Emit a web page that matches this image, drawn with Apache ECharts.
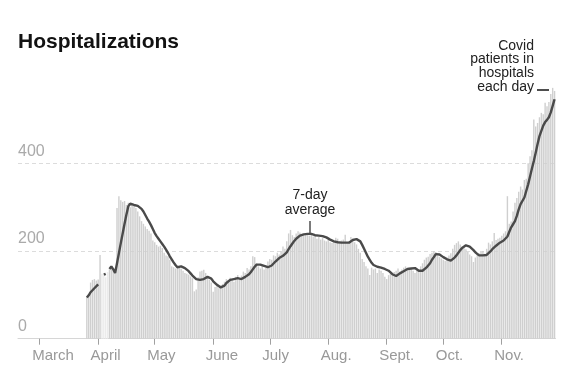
<!DOCTYPE html>
<html><head><meta charset="utf-8">
<script src="https://cdn.jsdelivr.net/npm/echarts@6/dist/echarts.min.js"></script>
<style>html,body{margin:0;padding:0;background:#fff}#c{width:574px;height:385px}</style>
</head><body><div id="c"></div>
<script>
const axisStart = '2020-02-19';
const dataStart = '2020-03-26';
const axisEnd = '2020-11-29';

const dailyPatients = [
  95, 100, 128, 134, 136, 133,
  135, 191, 148, 146, 140, 152, 158, 162, 155, 160, 298, 325, 316, 312, 314, 305, 310, 300, 306, 302, 298, 290, 279, 268, 262, 256, 250, 246, 240, 224,
  220, 214, 210, 212, 207, 196, 190, 188, 180, 165, 163, 160, 161, 164, 160, 155, 150, 148, 146, 142, 138, 108, 112, 140, 153, 155, 157, 150, 140, 134, 128,
  107, 118, 120, 115, 122, 125, 130, 136, 132, 139, 134, 130, 141, 145, 138, 144, 153, 150, 161, 158, 165, 188, 186, 172, 165, 160, 168, 158, 162, 176,
  182, 180, 190, 188, 196, 192, 200, 210, 205, 222, 240, 248, 236, 232, 240, 245, 242, 238, 236, 240, 238, 235, 237, 233, 236, 228, 232, 226, 230, 224, 222,
  225, 220, 218, 222, 230, 228, 220, 224, 226, 237, 218, 222, 232, 228, 220, 215, 205, 196, 182, 175, 165, 160, 145, 162, 158, 160, 150, 158, 155, 150, 141,
  136, 145, 148, 150, 152, 155, 160, 153, 158, 162, 165, 158, 162, 160, 155, 150, 156, 157, 165, 172, 180, 185, 187, 193, 196, 200, 198, 190, 186, 183,
  180, 178, 185, 190, 195, 205, 214, 218, 222, 215, 210, 206, 204, 198, 192, 188, 175, 185, 193, 195, 198, 200, 194, 205, 219, 215, 222, 241, 225, 228, 230,
  235, 240, 245, 325, 262, 267, 290, 310, 321, 335, 347, 340, 362, 365, 400, 416, 430, 500, 484, 492, 505, 515, 512, 538, 530, 540, 558, 572, 565
];

const sevenDayAvg = [
  94, 99, 106, 110, 115, 119,
  124, null, null, 146, 148, null, 159, 165, 158, 150, 172, 195, 218, 240, 262, 283, 302, 308, 306, 305, 304, 303, 300, 296, 290, 282, 274, 267, 259, 250,
  241, 234, 228, 222, 216, 210, 203, 196, 188, 181, 174, 168, 163, 163, 165, 164, 161, 158, 154, 149, 144, 140, 136, 134, 134, 135, 136, 138, 141, 141, 137,
  131, 127, 123, 119, 117, 117, 121, 127, 131, 134, 135, 136, 137, 138, 137, 136, 138, 141, 144, 147, 152, 158, 164, 169, 170, 169, 168, 166, 164, 163,
  164, 167, 171, 176, 180, 184, 187, 189, 191, 197, 204, 211, 217, 223, 228, 232, 235, 237, 238, 239, 239, 239, 239, 238, 236, 235, 235, 234, 234, 233, 231,
  229, 226, 223, 222, 221, 220, 219, 219, 219, 219, 219, 219, 220, 225, 228, 227, 225, 222, 214, 205, 196, 187, 180, 173, 168, 165, 164, 163, 162, 161, 159,
  158, 155, 151, 147, 144, 143, 146, 149, 151, 154, 157, 159, 159, 160, 161, 161, 157, 155, 153, 155, 159, 162, 165, 172, 180, 186, 193, 195, 192, 190,
  186, 183, 181, 179, 178, 180, 185, 190, 196, 202, 207, 211, 213, 212, 210, 207, 202, 197, 193, 190, 190, 190, 191, 191, 194, 199, 204, 208, 212, 215, 219,
  222, 224, 226, 233, 244, 254, 261, 268, 280, 295, 307, 311, 322, 337, 352, 370, 388, 405, 424, 444, 462, 474, 486, 494, 499, 505, 516, 531, 546
];

const lightDays = ['Apr 3', 'Apr 4', 'Apr 5', 'Apr 6'];
const monthStarts = ['Mar 1', 'Apr 1', 'May 1', 'Jun 1', 'Jul 1', 'Aug 1', 'Sep 1', 'Oct 1', 'Nov 1'];
const monthLabels = ['March', 'April', 'May', 'June', 'July', 'Aug.', 'Sept.', 'Oct.', 'Nov.'];
const yTicks = [0, 200, 400];
const yMax = 600;

const MN = ['Jan','Feb','Mar','Apr','May','Jun','Jul','Aug','Sep','Oct','Nov','Dec'];
function fmtDay(d) { return MN[d.getUTCMonth()] + ' ' + d.getUTCDate(); }
function buildDays(a, b) {
  const out = [];
  let d = new Date(a + 'T00:00:00Z');
  const e = new Date(b + 'T00:00:00Z');
  while (d <= e) { out.push(fmtDay(d)); d = new Date(d.getTime() + 86400000); }
  return out;
}
const categories = buildDays(axisStart, axisEnd);
const offset = categories.indexOf(fmtDay(new Date(dataStart + 'T00:00:00Z')));

const barData = categories.map((c, i) => {
  const k = i - offset;
  if (k < 0 || k >= dailyPatients.length) return null;
  const v = dailyPatients[k];
  return lightDays.includes(c) ? { value: v, itemStyle: { color: '#ebebeb' } } : v;
});
const lineData = categories.map((c, i) => {
  const k = i - offset;
  if (k < 0 || k >= sevenDayAvg.length) return null;
  return sevenDayAvg[k];
});

const tickSet = new Set(monthStarts.map(m => categories.indexOf(m)));
const labelMap = new Map(monthStarts.map((m, j) => [categories.indexOf(m) - 4, monthLabels[j]]));

const FONT = '"Liberation Sans", Arial, Helvetica, sans-serif';
const chart = echarts.init(document.getElementById('c'), null, { renderer: 'canvas' });
chart.setOption({
  animation: false,
  backgroundColor: '#fff',
  textStyle: { fontFamily: FONT },
  grid: { left: 18, right: 18.5, top: 75.6, bottom: 46.3, containLabel: false },
  xAxis: {
    type: 'category',
    data: categories,
    boundaryGap: true,
    axisLine: { show: true, lineStyle: { color: '#d6d6d6', width: 1 } },
    axisTick: { show: true, alignWithLabel: true, length: 6, interval: (i) => tickSet.has(i), lineStyle: { color: '#a0a0a0', width: 1 } },
    axisLabel: {
      interval: (i) => labelMap.has(i),
      formatter: (v, i) => labelMap.get(i) || '',
      align: 'left', margin: 10,
      color: '#999', fontSize: 15, fontFamily: FONT
    },
    splitLine: { show: false }
  },
  yAxis: {
    type: 'value', min: 0, max: yMax, interval: 200,
    axisLine: { show: false }, axisTick: { show: false },
    axisLabel: {
      inside: true, margin: 0, align: 'left', verticalAlign: 'bottom',
      padding: [0, 0, 4, 0],
      showMaxLabel: false,
      formatter: (v) => yTicks.includes(v) ? String(v) : '',
      color: '#aaa', fontSize: 16, fontFamily: FONT
    },
    splitLine: { show: true, showMinLine: false, showMaxLine: false, lineStyle: { color: '#dcdcdc', type: [4, 3], width: 1 } }
  },
  series: [
    {
      type: 'bar', data: barData, barCategoryGap: '25%',
      itemStyle: { color: '#cfcfcf' }, silent: true, z: 2
    },
    {
      type: 'line', data: lineData, symbol: 'none', smooth: false, connectNulls: false,
      lineStyle: { color: '#4a4a4a', width: 2.4 }, silent: true, z: 3
    }
  ],
  graphic: [
    { type: 'text', x: 18, y: 32, style: { text: 'Hospitalizations', font: 'bold 21px ' + FONT, fill: '#121212', verticalAlign: 'top' } },
    { type: 'text', x: 534, y: 39, style: { text: 'Covid\npatients in\nhospitals\neach day', font: '14px ' + FONT, fill: '#222', align: 'right', verticalAlign: 'top', lineHeight: 13.7 } },
    { type: 'line', shape: { x1: 537, y1: 90, x2: 549, y2: 90 }, style: { stroke: '#222', lineWidth: 1.6 } },
    { type: 'text', x: 310, y: 188, style: { text: '7-day\naverage', font: '14px ' + FONT, fill: '#222', align: 'center', verticalAlign: 'top', lineHeight: 15 } },
    { type: 'line', shape: { x1: 310, y1: 221, x2: 310, y2: 233 }, style: { stroke: '#222', lineWidth: 1.2 } }
  ]
});
</script>
</body></html>
